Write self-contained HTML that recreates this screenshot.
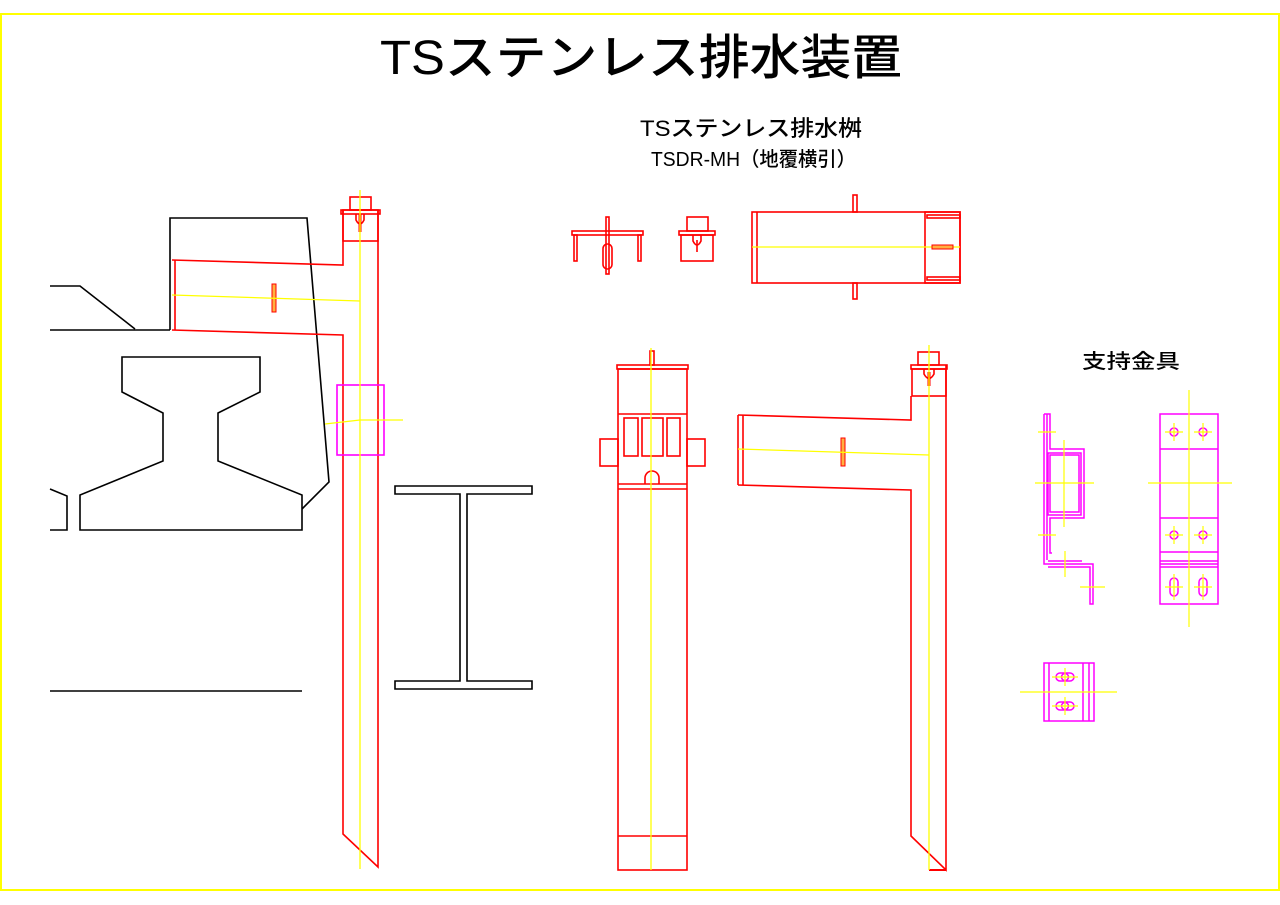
<!DOCTYPE html>
<html><head><meta charset="utf-8"><style>
html,body{margin:0;padding:0;background:#fff;}
svg{display:block;}
text{font-family:"Liberation Sans","Noto Sans CJK JP",sans-serif;fill:#000;font-weight:500;}
</style></head><body>
<svg width="1280" height="905" viewBox="0 0 1280 905" xmlns="http://www.w3.org/2000/svg">
<rect x="1" y="14" width="1278" height="876" fill="none" stroke="#ffff00" stroke-width="2"/>

<text x="380" y="74" font-size="48" textLength="522" lengthAdjust="spacingAndGlyphs" font-family="Noto Sans CJK JP, sans-serif">TSステンレス排水装置</text>
<text x="640" y="136" font-size="22" textLength="222" lengthAdjust="spacingAndGlyphs" font-family="Noto Sans CJK JP, sans-serif">TSステンレス排水桝</text>
<text x="651" y="166" font-size="20" textLength="205" lengthAdjust="spacingAndGlyphs" font-family="Noto Sans CJK JP, sans-serif">TSDR-MH（地覆横引）</text>
<text x="1082" y="368" font-size="20" textLength="98" lengthAdjust="spacingAndGlyphs" font-family="Noto Sans CJK JP, sans-serif">支持金具</text>

<!-- LEFT: black structure -->
<g fill="none" stroke="#000" stroke-width="1.6">
<polyline points="50,286 80,286 135,329"/>
<line x1="50" y1="330" x2="170" y2="330"/>
<polyline points="170,330 170,218 307,218 329,482 302,509"/>
<polygon points="122,357 260,357 260,392 218,413 218,461 302,495 302,530 80,530 80,495 163,461 163,413 122,392"/>
<polyline points="50,489 67,496 67,530 50,530"/>
<line x1="50" y1="691" x2="302" y2="691"/>
<polygon points="395,486 532,486 532,494 467,494 467,681 532,681 532,689 395,689 395,681 460,681 460,494 395,494"/>
</g>
<!-- LEFT: red pipe -->
<g fill="none" stroke="#ff0000" stroke-width="1.6">
<polyline points="172,260 343,265 343,210"/>
<polyline points="172,330 343,335 343,834 378,867 378,210"/>
<line x1="175" y1="260" x2="175" y2="330"/>
<rect x="343" y="210" width="35" height="31"/>
<rect x="341" y="210" width="39" height="4"/>
<rect x="350" y="197" width="21" height="13"/>
<path d="M356,214 v6 q4,8 8,0 v-6"/>
<line x1="360" y1="214" x2="360" y2="232" stroke-width="3"/>
</g>
<rect x="272" y="284" width="4" height="28" fill="#ffb040" stroke="#ff0000" stroke-width="1"/>
<rect x="337" y="385" width="47" height="70" fill="none" stroke="#ff00ff" stroke-width="1.6"/>
<g stroke="#ffff00" stroke-width="1.3">
<line x1="172" y1="295" x2="360" y2="301"/>
<line x1="360" y1="190" x2="360" y2="869"/>
<polyline points="325,424 360,420 403,420" fill="none"/>
</g>

<!-- TOP MIDDLE VIEWS -->
<g fill="none" stroke="#ff0000" stroke-width="1.6">
<rect x="572" y="231" width="71" height="4"/>
<rect x="574" y="235" width="3" height="26"/>
<rect x="638" y="235" width="3" height="26"/>
<rect x="606" y="217" width="3" height="57"/>
<rect x="603" y="244" width="9" height="25" rx="4.5"/>
<rect x="687" y="217" width="21" height="14"/>
<rect x="679" y="231" width="36" height="4"/>
<rect x="681" y="235" width="32" height="26"/>
<path d="M693,235 v6 q4,8 8,0 v-6"/>
<line x1="697" y1="240" x2="697" y2="252"/>
<rect x="752" y="212" width="208" height="71"/>
<line x1="757" y1="212" x2="757" y2="283"/>
<rect x="925" y="212" width="35" height="71"/>
<rect x="927" y="215" width="33" height="3"/>
<rect x="927" y="277" width="33" height="3"/>
<rect x="853" y="195" width="4" height="17"/>
<rect x="853" y="283" width="4" height="16"/>
</g>
<line x1="752" y1="247" x2="960" y2="247" stroke="#ffff00" stroke-width="1.3"/>
<rect x="932" y="245" width="21" height="4" fill="#ffb040" stroke="#ff0000"/>

<!-- FRONT VIEW -->
<g fill="none" stroke="#ff0000" stroke-width="1.6">
<rect x="617" y="365" width="71" height="4"/>
<rect x="650" y="351" width="4" height="14"/>
<rect x="618" y="369" width="69" height="501"/>
<line x1="618" y1="414" x2="687" y2="414"/>
<rect x="624" y="418" width="14" height="38"/>
<rect x="642" y="418" width="21" height="38"/>
<rect x="667" y="418" width="13" height="38"/>
<rect x="600" y="439" width="18" height="27"/>
<rect x="687" y="439" width="18" height="27"/>
<path d="M645,484 v-6 a7,7 0 0 1 14,0 v6"/>
<line x1="618" y1="484" x2="687" y2="484"/>
<line x1="618" y1="489" x2="687" y2="489"/>
<line x1="618" y1="836" x2="687" y2="836"/>
</g>
<line x1="651" y1="348" x2="651" y2="870" stroke="#ffff00" stroke-width="1.3"/>

<!-- SIDE VIEW -->
<g fill="none" stroke="#ff0000" stroke-width="1.6">
<polyline points="738,415 911,420 911,396"/>
<polyline points="738,485 911,490 911,836 946,870 946,365"/>
<line x1="738" y1="415" x2="738" y2="485"/>
<line x1="743" y1="415" x2="743" y2="485"/>
<rect x="911" y="365" width="36" height="4"/>
<rect x="912" y="369" width="34" height="27"/>
<rect x="918" y="352" width="21" height="13"/>
<path d="M924,369 v5 q5,9 10,0 v-5"/>
<line x1="929" y1="372" x2="929" y2="386" stroke-width="3"/>
<line x1="929" y1="870" x2="946" y2="870" stroke-width="2"/>
</g>
<rect x="841" y="438" width="4" height="28" fill="#ffb040" stroke="#ff0000"/>
<g stroke="#ffff00" stroke-width="1.3">
<line x1="738" y1="449" x2="929" y2="455"/>
<line x1="929" y1="345" x2="929" y2="870"/>
</g>

<!-- BRACKET SIDE VIEW -->
<g fill="none" stroke="#ff00ff" stroke-width="1.5">
<polyline points="1044,414 1050,414 1050,449 1084,449 1084,518 1050,518 1050,553 1052,553"/>
<polyline points="1044,414 1044,564 1093,564 1093,604 1090,604 1090,567 1048,567"/>
<line x1="1047" y1="414" x2="1047" y2="560"/>
<rect x="1048" y="453" width="33" height="62"/>
<rect x="1050" y="455" width="29" height="57"/>
<line x1="1048" y1="561" x2="1082" y2="561"/>
</g>
<g stroke="#ffff00" stroke-width="1.2">
<line x1="1038" y1="432" x2="1056" y2="432"/>
<line x1="1035" y1="483" x2="1094" y2="483"/>
<line x1="1064" y1="440" x2="1064" y2="527"/>
<line x1="1038" y1="535" x2="1056" y2="535"/>
<line x1="1065" y1="551" x2="1065" y2="577"/>
<line x1="1080" y1="587" x2="1105" y2="587"/>
</g>

<!-- BRACKET FRONT VIEW -->
<g fill="none" stroke="#ff00ff" stroke-width="1.5">
<rect x="1160" y="414" width="58" height="190"/>
<line x1="1160" y1="449" x2="1218" y2="449"/>
<line x1="1160" y1="518" x2="1218" y2="518"/>
<line x1="1160" y1="552" x2="1218" y2="552"/>
<line x1="1160" y1="561" x2="1218" y2="561"/>
<line x1="1160" y1="564" x2="1218" y2="564"/>
<line x1="1160" y1="567" x2="1218" y2="567"/>
<circle cx="1174" cy="432" r="4"/>
<circle cx="1203" cy="432" r="4"/>
<circle cx="1174" cy="535" r="4"/>
<circle cx="1203" cy="535" r="4"/>
<rect x="1170" y="578" width="8" height="18" rx="4"/>
<rect x="1199" y="578" width="8" height="18" rx="4"/>
</g>
<g stroke="#ffff00" stroke-width="1.2">
<line x1="1189" y1="390" x2="1189" y2="627"/>
<line x1="1148" y1="483" x2="1232" y2="483"/>
<line x1="1165" y1="432" x2="1183" y2="432"/><line x1="1174" y1="423" x2="1174" y2="441"/>
<line x1="1194" y1="432" x2="1212" y2="432"/><line x1="1203" y1="423" x2="1203" y2="441"/>
<line x1="1165" y1="535" x2="1183" y2="535"/><line x1="1174" y1="526" x2="1174" y2="544"/>
<line x1="1194" y1="535" x2="1212" y2="535"/><line x1="1203" y1="526" x2="1203" y2="544"/>
<line x1="1165" y1="587" x2="1183" y2="587"/><line x1="1174" y1="574" x2="1174" y2="600"/>
<line x1="1194" y1="587" x2="1212" y2="587"/><line x1="1203" y1="574" x2="1203" y2="600"/>
</g>

<!-- BRACKET BOTTOM VIEW -->
<g fill="none" stroke="#ff00ff" stroke-width="1.5">
<rect x="1044" y="663" width="50" height="58"/>
<line x1="1049" y1="663" x2="1049" y2="721"/>
<line x1="1083" y1="663" x2="1083" y2="721"/>
<line x1="1089" y1="663" x2="1089" y2="721"/>
<rect x="1056" y="673" width="18" height="8" rx="4"/>
<circle cx="1065" cy="677" r="3.5"/>
<rect x="1056" y="702" width="18" height="8" rx="4"/>
<circle cx="1065" cy="706" r="3.5"/>
</g>
<g stroke="#ffff00" stroke-width="1.2">
<line x1="1020" y1="692" x2="1117" y2="692"/>
<line x1="1052" y1="677" x2="1078" y2="677"/><line x1="1065" y1="668" x2="1065" y2="686"/>
<line x1="1052" y1="706" x2="1078" y2="706"/><line x1="1065" y1="697" x2="1065" y2="715"/>
</g>
</svg>
</body></html>
